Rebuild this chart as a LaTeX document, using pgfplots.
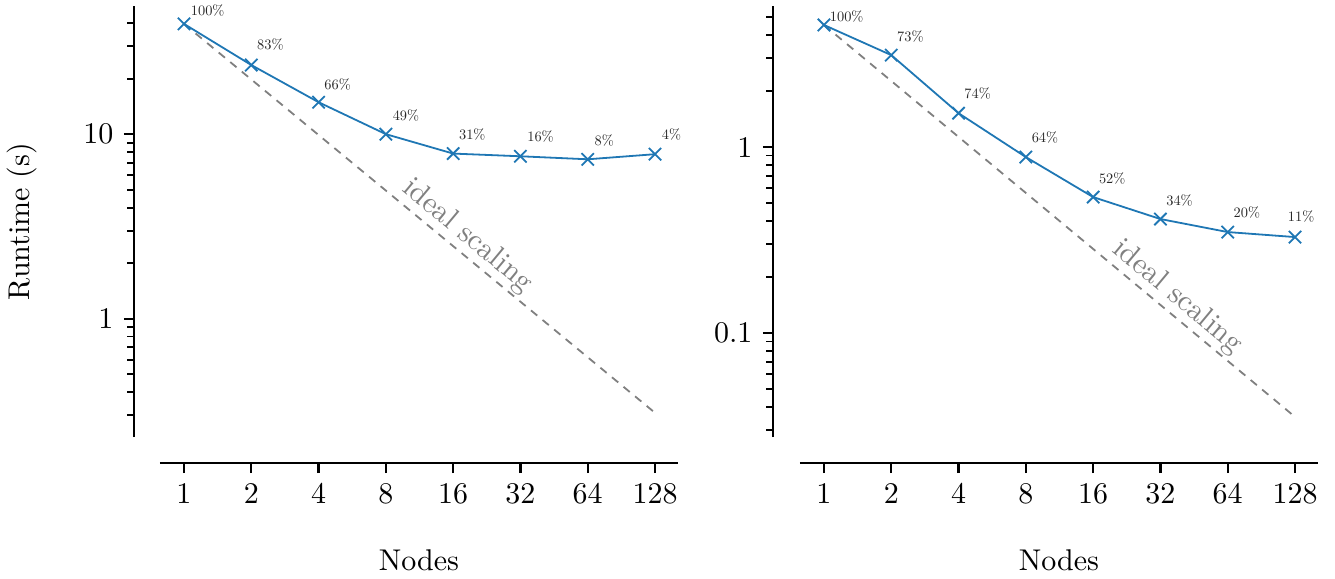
\documentclass[border=0pt]{standalone}
\usepackage{pgfplots}
\pgfplotsset{compat=1.18}
\usepackage{pgfplotstable}

\definecolor{tabblue}{RGB}{31,119,180}
\definecolor{idealgray}{RGB}{128,128,128}
\font\pctfont=cmr10 at 4.8pt

% nodes, runtime (s), parallel efficiency (%), label offsets (px)
\pgfplotstableread{
n    t      eff  dx  dy
1    39.6   100  6   7
2    23.7   83   5   14
4    14.9   66   5   11
8    10.0   49   6   12
16   7.85   31   5   12
32   7.59   16   6   13
64   7.31   8    6   12
128  7.79   4    6   13
}\leftdata

\pgfplotstableread{
n    t      eff  dx  dy
1    4.53   100  5   2
2    3.12   73   5   12
4    1.52   74   5   13
8    0.883  64   5   13
16   0.538  52   5   12
32   0.410  34   5   12
64   0.349  20   5   13
128  0.328  11   -8  14
}\rightdata

\begin{document}
\begin{tikzpicture}
\useasboundingbox (-53.33pt,-47.33pt) rectangle (391.67pt,145.67pt);

% ---------- left panel: x spine (offset downwards) ----------
\begin{axis}[at={(0pt,-8.67pt)},
  scale only axis, width=172.67pt, height=143.67pt,
  xmode=log, log basis x=2, xmin=0.781, xmax=162.2,
  ymin=0, ymax=1, ytick=\empty,
  axis x line*=bottom, axis y line=none,
  axis line style={line width=0.8pt, black},
  tick align=outside, major tick length=3.33pt,
  major tick style={line width=0.8pt, black},
  xtick={1,2,4,8,16,32,64,128},
  xticklabels={1,2,4,8,16,32,64,128},
  xminorticks=false,
  xlabel={Nodes},
  xlabel style={at={(axis description cs:0.5,-0.225)}, anchor=center},
]
\end{axis}
% ---------- left panel: y spine (offset to the left) ----------
\begin{axis}[at={(-8.67pt,0pt)},
  scale only axis, width=172.67pt, height=143.67pt,
  xmin=0, xmax=1, xtick=\empty,
  ymode=log, ymin=0.2285, ymax=49.5,
  axis y line*=left, axis x line=none,
  axis line style={line width=0.8pt, black},
  tick align=outside, major tick length=3.33pt, minor tick length=2.2pt,
  major tick style={line width=0.8pt, black},
  minor tick style={line width=0.6pt, black},
  ytick={1,10}, yticklabels={1,10},
  minor ytick={0.3,0.4,0.5,0.6,0.7,0.8,0.9,2,3,4,5,6,7,8,9,20,30,40},
  ylabel={Runtime (s)},
  ylabel style={at={(axis description cs:-0.216,0.5)}, anchor=center},
]
\end{axis}
% ---------- left panel: data ----------
\begin{axis}[at={(0pt,0pt)},
  scale only axis, width=172.67pt, height=143.67pt,
  xmode=log, log basis x=2, xmin=0.781, xmax=162.2,
  ymode=log, ymin=0.2285, ymax=49.5,
  hide axis, clip=false,
]
\addplot[color=idealgray, line width=0.6pt, dash pattern=on 2.7pt off 2.3pt]
  coordinates {(1,39.6) (128,0.309)};
\addplot[color=tabblue, line width=0.6pt, mark=x, mark size=2.9pt,
  mark options={line width=0.6pt},
  point meta=explicit symbolic,
  visualization depends on={\thisrow{dx} \as \dx},
  visualization depends on={\thisrow{dy} \as \dy},
  nodes near coords={\pctfont\pgfplotspointmeta\%},
  every node near coord/.append style={
    text=black!85, anchor=south west, inner sep=0pt,
    xshift=\dx*0.3333pt, yshift=\dy*0.3333pt},
] table[x=n, y=t, meta=eff] {\leftdata};
\node[text=idealgray, rotate=-39.8, anchor=south, inner sep=1pt]
  at (axis cs:16.6,2.38) {ideal scaling};
\end{axis}

% ---------- right panel: x spine ----------
\begin{axis}[at={(213.33pt,-8.67pt)},
  scale only axis, width=172.67pt, height=143.67pt,
  xmode=log, log basis x=2, xmin=0.781, xmax=162.2,
  ymin=0, ymax=1, ytick=\empty,
  axis x line*=bottom, axis y line=none,
  axis line style={line width=0.8pt, black},
  tick align=outside, major tick length=3.33pt,
  major tick style={line width=0.8pt, black},
  xtick={1,2,4,8,16,32,64,128},
  xticklabels={1,2,4,8,16,32,64,128},
  xminorticks=false,
  xlabel={Nodes},
  xlabel style={at={(axis description cs:0.5,-0.225)}, anchor=center},
]
\end{axis}
% ---------- right panel: y spine ----------
\begin{axis}[at={(204.33pt,0pt)},
  scale only axis, width=172.67pt, height=143.67pt,
  xmin=0, xmax=1, xtick=\empty,
  ymode=log, ymin=0.0276, ymax=5.73,
  axis y line*=left, axis x line=none,
  axis line style={line width=0.8pt, black},
  tick align=outside, major tick length=3.33pt, minor tick length=2.2pt,
  major tick style={line width=0.8pt, black},
  minor tick style={line width=0.6pt, black},
  ytick={0.1,1}, yticklabels={0.1,1},
  minor ytick={0.03,0.04,0.05,0.06,0.07,0.08,0.09,0.2,0.3,0.4,0.5,0.6,0.7,0.8,0.9,2,3,4,5},
]
\end{axis}
% ---------- right panel: data ----------
\begin{axis}[at={(213.33pt,0pt)},
  scale only axis, width=172.67pt, height=143.67pt,
  xmode=log, log basis x=2, xmin=0.781, xmax=162.2,
  ymode=log, ymin=0.0276, ymax=5.73,
  hide axis, clip=false,
]
\addplot[color=idealgray, line width=0.6pt, dash pattern=on 2.7pt off 2.3pt]
  coordinates {(1,4.53) (128,0.0354)};
\addplot[color=tabblue, line width=0.6pt, mark=x, mark size=2.9pt,
  mark options={line width=0.6pt},
  point meta=explicit symbolic,
  visualization depends on={\thisrow{dx} \as \dx},
  visualization depends on={\thisrow{dy} \as \dy},
  nodes near coords={\pctfont\pgfplotspointmeta\%},
  every node near coord/.append style={
    text=black!85, anchor=south west, inner sep=0pt,
    xshift=\dx*0.3333pt, yshift=\dy*0.3333pt},
] table[x=n, y=t, meta=eff] {\rightdata};
\node[text=idealgray, rotate=-39.8, anchor=south, inner sep=1pt]
  at (axis cs:34,0.133) {ideal scaling};
\end{axis}
\end{tikzpicture}
\end{document}
